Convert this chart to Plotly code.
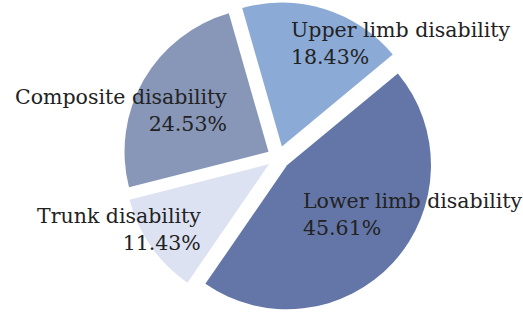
import plotly.graph_objects as go

categories = ["Upper limb disability", "Lower limb disability", "Trunk disability", "Composite disability"]
shares = [18.43, 45.61, 11.43, 24.53]
colors = ["#8BAAD6", "#6376A7", "#DDE2F3", "#8897B8"]

W, H = 523, 313
MT, MB, ML, MR = 2, 0, 0, 0

def px(x):
    return (x - ML) / (W - ML - MR)

def py(y):
    return 1 - (y - MT) / (H - MT - MB)

fig = go.Figure(go.Pie(
    labels=categories,
    values=shares,
    sort=False,
    direction="clockwise",
    rotation=-16,
    pull=[0.08] * len(shares),
    marker=dict(colors=colors, line=dict(width=0)),
    textinfo="none",
    hoverinfo="label+percent",
    showlegend=False,
    domain=dict(x=[0.065, 1.0], y=[0, 1]),
))

font = dict(family="DejaVu Serif, serif", size=20.5, color="#222222")
placement = {
    "Upper limb disability": (290, 44, "left"),
    "Lower limb disability": (302, 214, "left"),
    "Trunk disability": (202, 229, "right"),
    "Composite disability": (228, 110, "right"),
}
for cat, val in zip(categories, shares):
    x, y, anc = placement[cat]
    fig.add_annotation(
        x=px(x), y=py(y), xref="paper", yref="paper",
        text=f"{cat}<br>{val:.2f}%",
        showarrow=False, xanchor=anc, yanchor="middle", align=anc,
        font=font, borderpad=0,
    )

fig.update_layout(
    width=W, height=H,
    margin=dict(l=ML, r=MR, t=MT, b=MB),
    paper_bgcolor="white", plot_bgcolor="white",
)
fig.write_html(
    "out.html",
    config={"displayModeBar": False},
    post_script="document.body.style.margin='0';",
)
